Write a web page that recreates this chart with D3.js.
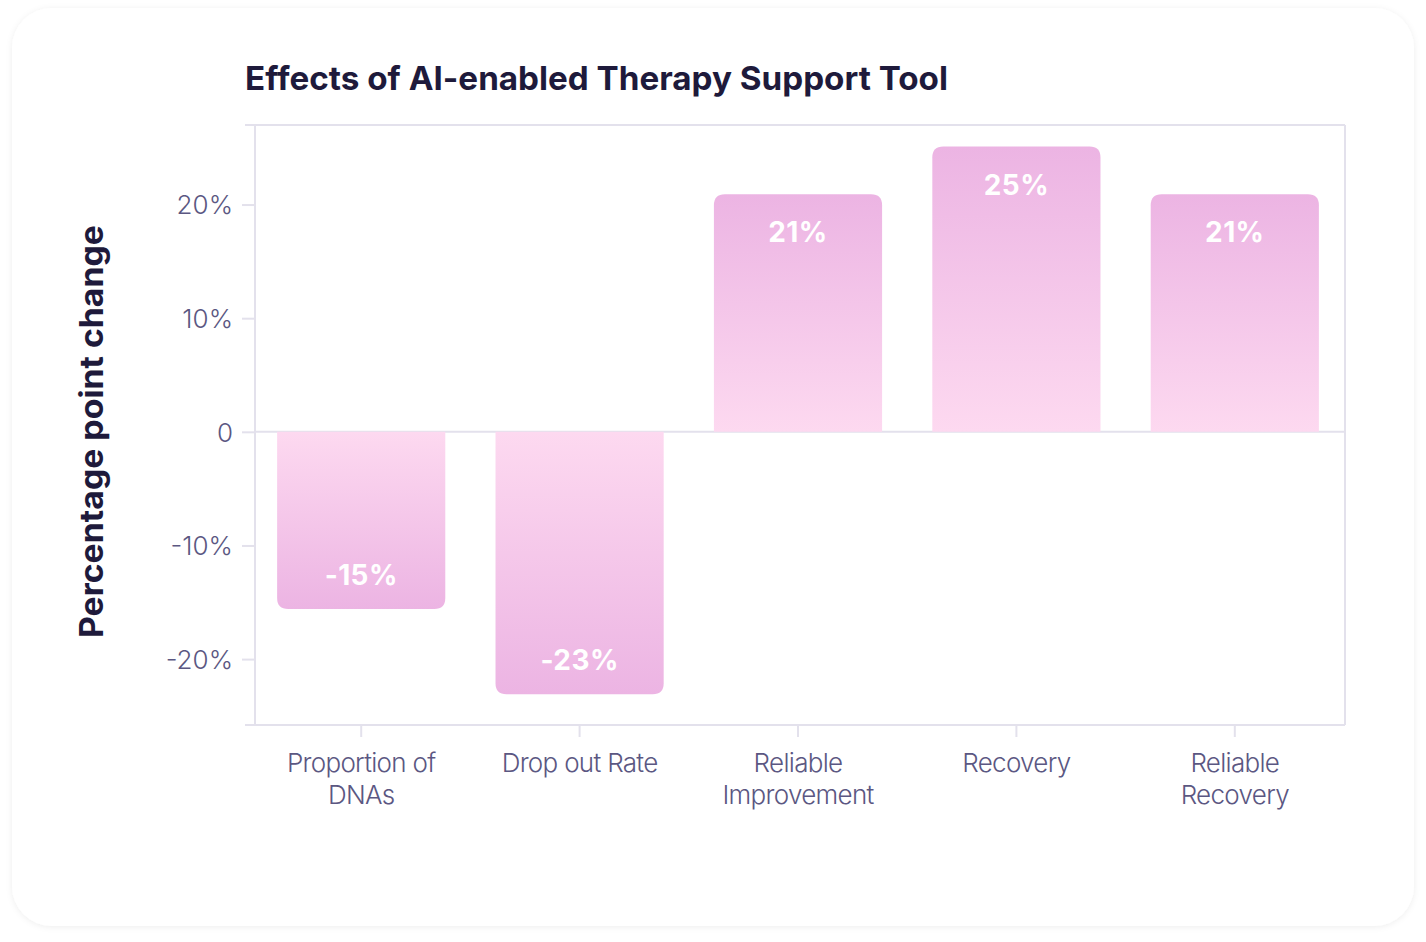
<!DOCTYPE html>
<html>
<head>
<meta charset="utf-8">
<script src="https://cdn.jsdelivr.net/npm/d3@7"></script>
<style>
  html, body { margin: 0; padding: 0; background: #ffffff; }
  svg { display: block; }
</style>
</head>
<body>
<div id="chart"></div>
<script>
// ---- Data ----
const categories = [["Proportion of", "DNAs"], ["Drop out Rate"], ["Reliable", "Improvement"], ["Recovery"], ["Reliable", "Recovery"]];
const values = [-15.6, -23.1, 20.9, 25.1, 20.9];
const valueLabels = ["-15%", "-23%", "21%", "25%", "21%"];
const yTicks = [-20, -10, 0, 10, 20];
const yTickLabels = ["-20%", "-10%", "0", "10%", "20%"];
const title = "Effects of AI-enabled Therapy Support Tool";
const yTitle = "Percentage point change";

// ---- Layout ----
const W = 1426, H = 942;
const plot = { left: 255, right: 1345, top: 125, bottom: 725 };

const svg = d3.select("#chart").append("svg").attr("width", W).attr("height", H);
const defs = svg.append("defs");

const shadow = defs.append("filter").attr("id", "shadow").attr("x", "-5%").attr("y", "-5%").attr("width", "110%").attr("height", "110%");
shadow.append("feDropShadow").attr("dx", 0).attr("dy", 1).attr("stdDeviation", 3).attr("flood-color", "#000").attr("flood-opacity", 0.07);

// card
svg.append("rect").attr("x", 12).attr("y", 8).attr("width", 1402).attr("height", 918)
  .attr("rx", 40).attr("fill", "#ffffff").attr("filter", "url(#shadow)");

// gradients
const gPos = defs.append("linearGradient").attr("id", "gradPos").attr("x1", 0).attr("y1", 0).attr("x2", 0).attr("y2", 1);
gPos.append("stop").attr("offset", "0%").attr("stop-color", "#ecb4e3");
gPos.append("stop").attr("offset", "100%").attr("stop-color", "#fdd9f0");
const gNeg = defs.append("linearGradient").attr("id", "gradNeg").attr("x1", 0).attr("y1", 0).attr("x2", 0).attr("y2", 1);
gNeg.append("stop").attr("offset", "0%").attr("stop-color", "#fdd9f0");
gNeg.append("stop").attr("offset", "100%").attr("stop-color", "#ecb4e3");

// scales
const x = d3.scaleBand().domain(d3.range(values.length)).range([252, 1344]).paddingInner(0.23).paddingOuter(0.115);
const y = d3.scaleLinear().domain([-25.8, 27]).range([plot.bottom, plot.top]);

const axisColor = "#e3e1ec";
const tickTextColor = "#5b5782";
const darkText = "#1e1a3b";

// frame lines
svg.append("line").attr("x1", 245).attr("x2", plot.right).attr("y1", plot.top).attr("y2", plot.top).attr("stroke", axisColor).attr("stroke-width", 2);
svg.append("line").attr("x1", plot.right).attr("x2", plot.right).attr("y1", plot.top).attr("y2", plot.bottom).attr("stroke", axisColor).attr("stroke-width", 2);

// y axis
const yAxis = d3.axisLeft(y).tickValues(yTicks).tickSize(13).tickPadding(9)
  .tickFormat((d, i) => yTickLabels[i]);
const gy = svg.append("g").attr("transform", `translate(${plot.left},0)`).call(yAxis);
gy.select(".domain").attr("stroke", axisColor).attr("stroke-width", 2).attr("d", `M0,${plot.top}V${plot.bottom}`);
gy.selectAll(".tick line").attr("stroke", axisColor).attr("stroke-width", 2);
gy.selectAll(".tick text").attr("fill", tickTextColor).attr("font-family", "Inter, 'Open Sans', sans-serif")
  .attr("font-size", 26).attr("font-weight", 300).attr("dy", "0.36em");

// zero line (gridline)
svg.append("line").attr("x1", plot.left).attr("x2", plot.right).attr("y1", y(0)).attr("y2", y(0)).attr("stroke", axisColor).attr("stroke-width", 2);

// bars
function barPath(i) {
  const v = values[i];
  const x0 = x(i), w = x.bandwidth(), r = 11;
  const y0 = y(0), y1 = y(v);
  if (v >= 0) {
    return `M${x0},${y0}V${y1 + r}Q${x0},${y1} ${x0 + r},${y1}H${x0 + w - r}Q${x0 + w},${y1} ${x0 + w},${y1 + r}V${y0}Z`;
  } else {
    return `M${x0},${y0}V${y1 - r}Q${x0},${y1} ${x0 + r},${y1}H${x0 + w - r}Q${x0 + w},${y1} ${x0 + w},${y1 - r}V${y0}Z`;
  }
}
svg.append("g").selectAll("path").data(values).join("path")
  .attr("d", (d, i) => barPath(i))
  .attr("fill", d => d >= 0 ? "url(#gradPos)" : "url(#gradNeg)");

// bar labels
svg.append("g").selectAll("text").data(values).join("text")
  .attr("x", (d, i) => x(i) + x.bandwidth() / 2)
  .attr("y", d => d >= 0 ? y(d) + 48 : y(d) - 24)
  .attr("text-anchor", "middle")
  .attr("fill", "#ffffff")
  .attr("font-family", "Inter, 'Open Sans', sans-serif")
  .attr("font-weight", 700)
  .attr("font-size", 28)
  .attr("letter-spacing", 0.4)
  .text((d, i) => valueLabels[i]);

// x axis
const xAxis = d3.axisBottom(x).tickSize(12).tickFormat(() => "");
const gx = svg.append("g").attr("transform", `translate(0,${plot.bottom})`).call(xAxis);
gx.select(".domain").attr("stroke", axisColor).attr("stroke-width", 2).attr("d", `M245,0H${plot.right}`);
gx.selectAll(".tick line").attr("stroke", axisColor).attr("stroke-width", 2);
gx.selectAll(".tick").each(function(d) {
  const t = d3.select(this).append("text")
    .attr("fill", tickTextColor).attr("text-anchor", "middle")
    .attr("font-family", "Inter, 'Open Sans', sans-serif")
    .attr("font-size", 26).attr("font-weight", 300).attr("letter-spacing", -0.7);
  categories[d].forEach((line, k) => {
    t.append("tspan").attr("x", 0).attr("y", 47 + k * 32).text(line);
  });
});

// title
svg.append("text").attr("x", 245).attr("y", 90)
  .attr("fill", darkText).attr("font-family", "Inter, 'Open Sans', sans-serif")
  .attr("font-weight", 700).attr("font-size", 33)
  .attr("textLength", 703).attr("lengthAdjust", "spacingAndGlyphs")
  .text(title);

// y axis title
svg.append("text").attr("transform", `translate(103,${(225 + 638) / 2}) rotate(-90)`)
  .attr("text-anchor", "middle")
  .attr("fill", darkText).attr("font-family", "Inter, 'Open Sans', sans-serif")
  .attr("font-weight", 700).attr("font-size", 32)
  .attr("textLength", 413).attr("lengthAdjust", "spacingAndGlyphs")
  .text(yTitle);
</script>
</body>
</html>
